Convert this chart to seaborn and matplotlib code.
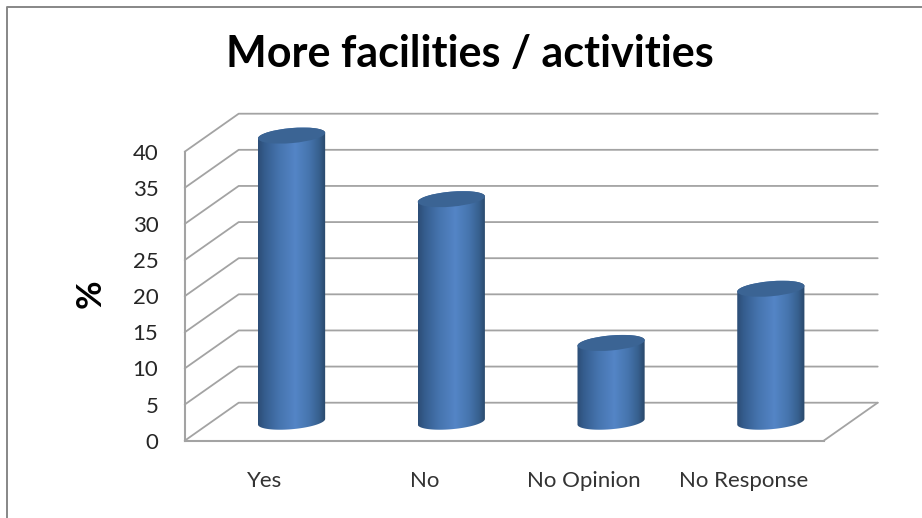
import numpy as np
import matplotlib
matplotlib.use("Agg")
import matplotlib.pyplot as plt
import seaborn as sns
from matplotlib.colors import LinearSegmentedColormap
from matplotlib.lines import Line2D
from matplotlib.patches import Ellipse, Polygon
from matplotlib.transforms import Affine2D, IdentityTransform

categories = ["Yes", "No", "No Opinion", "No Response"]
percent = [39.6, 30.8, 10.9, 18.4]
y_ticks = [0, 5, 10, 15, 20, 25, 30, 35, 40]

sns.set_theme(style="white")
plt.rcParams["font.family"] = ["Lato", "DejaVu Sans"]

W, H = 922, 518
fig = plt.figure(figsize=(W / 100, H / 100), dpi=100, facecolor="white")

# Axes spans the front plane of the box
left, right, top, bottom = 184.7, 823.7, 151.7, 440.7
ax = fig.add_axes([left / W, 1 - bottom / H, (right - left) / W, (bottom - top) / H])
ax.patch.set_visible(False)

bar_width = 0.422
sns.barplot(x=categories, y=percent, ax=ax, width=bar_width, color="#4f81bd",
            saturation=1, errorbar=None, zorder=3)
ax.set_xlim(-0.5, 3.5)
ax.set_ylim(0, 40)
ax.set_yticks(y_ticks)
ax.set_xlabel("")
ax.set_ylabel("")

# Depth of the box, in pixels, and the plane through the cylinder axes
depth = np.array([54.0, 38.0])
back_tf = ax.transData + Affine2D().translate(*depth)
mid_tf = ax.transData + Affine2D().translate(*(depth / 2))

grid_color = "#a3a3a3"
grid_lw = 1.3
px = IdentityTransform()

def segment(points):
    xs, ys = zip(*points)
    ax.add_line(Line2D(xs, ys, transform=px, color=grid_color, lw=grid_lw,
                       clip_on=False, zorder=1, solid_capstyle="round"))

# Floor, left wall and back wall rules
for t in y_ticks:
    front = ax.transData.transform((-0.5, t))
    back = back_tf.transform((-0.5, t))
    far = back_tf.transform((3.5, t))
    segment([front, back, far])
segment([ax.transData.transform((3.5, 0)), back_tf.transform((3.5, 0))])

for side in ("top", "right"):
    ax.spines[side].set_visible(False)
for side in ("left", "bottom"):
    ax.spines[side].set_color(grid_color)
    ax.spines[side].set_linewidth(grid_lw + 0.2)
    ax.spines[side].set_zorder(1)

# Cylinders: each seaborn bar fixes the extent of a shaded tilted body and cap
shade = LinearSegmentedColormap.from_list(
    "cylinder",
    [(0.0, "#2c4d76"), (0.1, "#355d8e"), (0.3, "#4573ad"), (0.55, "#5485c6"),
     (0.75, "#4675ae"), (0.9, "#37608f"), (1.0, "#294769")],
)
ramp = np.linspace(0, 1, 256)[None, :]
tilt = np.radians(5.0)
minor = 15.0

def arc(center, major, start, stop):
    # Points along a tilted ellipse outline, in pixels
    t = np.linspace(start, stop, 60)
    ex, ey = major / 2 * np.cos(t), minor / 2 * np.sin(t)
    return np.column_stack([center[0] + ex * np.cos(tilt) - ey * np.sin(tilt),
                            center[1] + ex * np.sin(tilt) + ey * np.cos(tilt)])

for bar, value in zip(list(ax.patches), percent):
    x0, x1 = bar.get_x(), bar.get_x() + bar.get_width()
    xc = (x0 + x1) / 2
    bar.set_visible(False)
    major = mid_tf.transform((x1, 0))[0] - mid_tf.transform((x0, 0))[0]
    base_c = mid_tf.transform((xc, 0))
    cap_c = mid_tf.transform((xc, value))

    outline = np.vstack([arc(base_c, major, np.pi, 2 * np.pi),
                         arc(cap_c, major, 0, np.pi)])
    body = Polygon(outline, closed=True, transform=px)
    im = ax.imshow(ramp, cmap=shade, aspect="auto", interpolation="bilinear",
                   extent=(x0, x1, -3, value + 3), transform=mid_tf, zorder=4)
    im.set_clip_box(fig.bbox)
    im.set_clip_path(body)
    ax.add_patch(Ellipse(cap_c, major, minor, angle=np.degrees(tilt), transform=px,
                         facecolor="#3b6494", edgecolor="none", clip_on=False,
                         zorder=5))

ax.set_xlim(-0.5, 3.5)
ax.set_ylim(0, 40)

ax.tick_params(axis="y", length=2, color=grid_color, pad=17, labelsize=16,
               labelcolor="#262626")
ax.tick_params(axis="x", length=0, pad=22, labelsize=16, labelcolor="#333333")

fig.text(470 / W, 1 - 54 / H, "More facilities / activities", ha="center",
         va="center", fontsize=31, fontweight="bold", color="black")
fig.text(91 / W, 1 - 294 / H, "%", ha="center", va="center", rotation=90,
         fontsize=25, fontweight="bold", color="black")

# Chart frame along the top and left edges
frame = "#878787"
fig.add_artist(Line2D([7 / W, 7 / W, 1], [0, 1 - 7 / H, 1 - 7 / H],
                      color=frame, lw=1.4, transform=fig.transFigure))

fig.savefig("out.png", dpi=100, facecolor="white")
